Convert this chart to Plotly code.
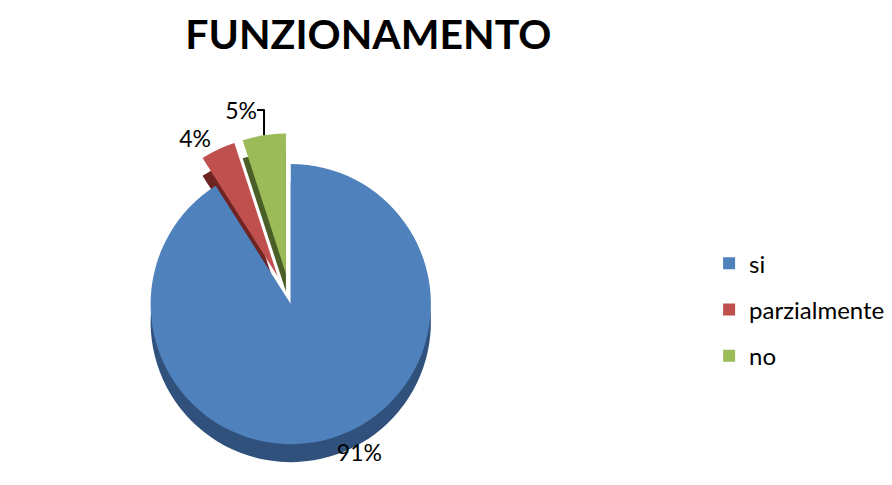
import plotly.graph_objects as go

# Dati
categorie = ['si', 'parzialmente', 'no']
percentuali = [91, 4, 5]

COLORI = ['#4F81BD', '#C0504D', '#9BBB59']
COLORI_LATO = ['#30517B', '#6E2422', '#4A5E27']
STACCO = [0, 0.22, 0.22]

fig = go.Figure()

# "lato" del disco, per dare un po' di effetto 3D
fig.add_trace(go.Pie(
    labels=categorie,
    values=percentuali,
    sort=False,
    direction='clockwise',
    rotation=0,
    pull=STACCO,
    marker=dict(colors=COLORI_LATO, line=dict(width=0)),
    textinfo='none',
    hoverinfo='skip',
    showlegend=False,
    domain=dict(x=[0.0, 0.634], y=[0.0, 0.705])
))

fig.add_trace(go.Pie(
    labels=categorie,
    values=percentuali,
    sort=False,
    direction='clockwise',
    rotation=0,
    pull=STACCO,
    marker=dict(colors=COLORI, line=dict(width=0)),
    texttemplate='%{value}%',
    textposition='outside',
    textfont=dict(size=23, color='#000000'),
    hovertemplate='<b>%{label}</b><br>%{value}%<extra></extra>',
    showlegend=False,
    domain=dict(x=[0.0, 0.634], y=[0.037, 0.742])
))

# legenda: una voce per categoria, con spaziatura come nell'originale
for nome, colore in zip(categorie, COLORI):
    fig.add_trace(go.Scatter(
        x=[None], y=[None],
        mode='markers',
        name=nome,
        legendgroup=nome,
        marker=dict(symbol='square', size=12, color=colore),
        hoverinfo='skip'
    ))

fig.update_layout(
    title=dict(
        text='<b>FUNZIONAMENTO</b>',
        x=0.404, xanchor='center',
        y=0.945, yanchor='middle',
        font=dict(family='Lato, Open Sans, sans-serif', size=41, color='#000000')
    ),
    font=dict(family='Lato, Open Sans, sans-serif', size=22, color='#000000'),
    legend=dict(
        x=0.786, xanchor='left',
        y=0.378, yanchor='middle',
        font=dict(size=24),
        itemwidth=30,
        tracegroupgap=12
    ),
    xaxis=dict(visible=False),
    yaxis=dict(visible=False),
    width=892, height=485,
    margin=dict(l=0, r=0, t=0, b=0, autoexpand=False),
    paper_bgcolor='#ffffff',
    plot_bgcolor='#ffffff'
)

fig.write_html('out.html')
